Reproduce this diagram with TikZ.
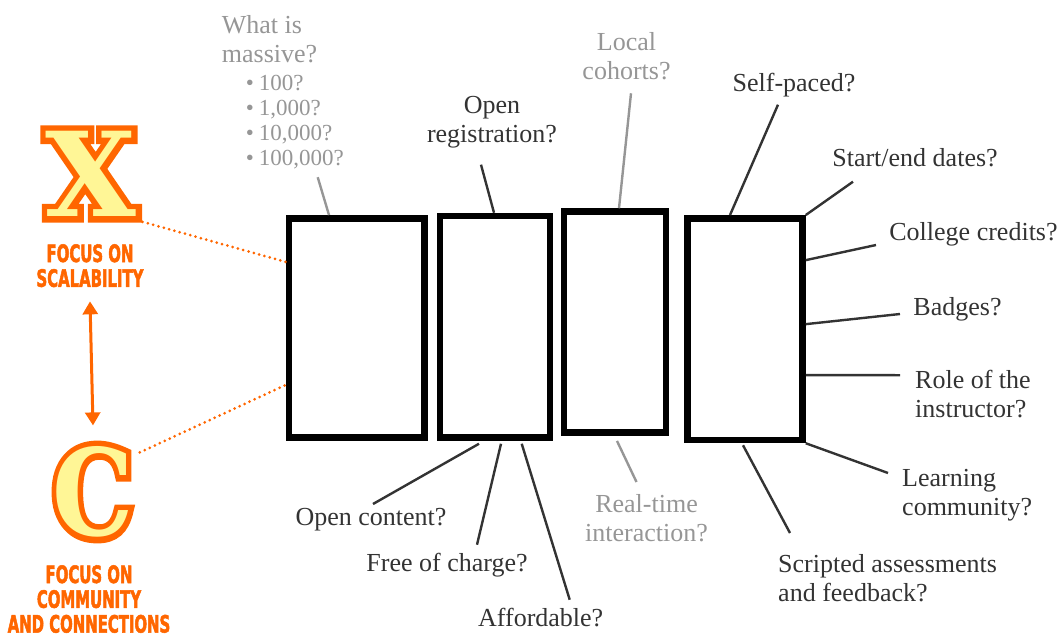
\documentclass[tikz,border=0pt]{standalone}
\usepackage{fontspec}
\setmainfont{Liberation Serif}
\newfontfamily\headfont[FakeStretch=0.62, FakeBold=2]{DejaVu Sans Bold}
\newfontfamily\letterfont{DejaVu Serif Bold}
\newfontfamily\letteredge[FakeBold=10]{DejaVu Serif Bold}
\usetikzlibrary{positioning, arrows.meta, calc}

\definecolor{focusorange}{RGB}{255,102,0}
\definecolor{letteryellow}{RGB}{255,246,150}
\definecolor{darktext}{RGB}{51,51,51}
\definecolor{greytext}{RGB}{150,150,150}

% a big letter: orange outline under a yellow face
\newcommand{\outlined}[1]{\rlap{\color{focusorange}\letteredge #1}{\color{letteryellow}\letterfont #1}}

\tikzset{
  modelbox/.style={draw=black, line width=6.5pt, fill=white, inner sep=0pt},
  question/.style={text=darktext, font=\fontsize{26}{29}\selectfont, inner sep=0pt},
  softquestion/.style={question, text=greytext},
  link/.style={draw=darktext, line width=2.4pt},
  softlink/.style={link, draw=greytext},
  focus/.style={text=focusorange, font=\headfont\fontsize{24}{24.8}\selectfont, align=center, inner sep=0pt},
  bigletter/.style={inner sep=0pt},
  dotlink/.style={draw=focusorange, line width=3pt, dash pattern=on 0pt off 5.5pt, line cap=round}
}

\begin{document}
\begin{tikzpicture}[x=1pt, y=-1pt]
\useasboundingbox (0,0) rectangle (1062,639);

% the four boxes
\node[modelbox, minimum width=135.5pt, minimum height=219.2pt] (box1) at (356.75,327.9) {};
\node[modelbox, minimum width=110pt, minimum height=221.5pt] (box2) at (495,326.75) {};
\node[modelbox, minimum width=102pt, minimum height=221.2pt] (box3) at (615,322.1) {};
\node[modelbox, minimum width=115pt, minimum height=221.7pt] (box4) at (745,329.15) {};

% scalability and community
\node[bigletter, font=\fontsize{117}{117}\selectfont] (xletter) at (91,174) {\outlined{X}};
\node[focus, anchor=north] (xfocus) at (90,244) {FOCUS ON\\SCALABILITY};

\node[bigletter, font=\fontsize{120}{120}\selectfont] (cletter) at (93,492) {\scalebox{0.85}[1]{\outlined{C}}};
\node[focus, anchor=north] (cfocus) at (89,565) {FOCUS ON\\COMMUNITY\\AND CONNECTIONS};

\draw[draw=focusorange, line width=3pt, {Triangle[length=13pt, width=15pt]}-{Triangle[length=13pt, width=15pt]}]
  ([yshift=-14pt]xfocus.south) -- ([yshift=21pt]cletter.north);

\draw[dotlink] ([shift={(6,5)}]xletter.south east) -- ([shift={(0,-66)}]box1.west);
\draw[dotlink] ([shift={(6,6)}]cletter.north east) -- ([shift={(0,57)}]box1.west);

% questions above
\node[softquestion, anchor=north west, align=left] (massive) at (221.7,15.2)
  {What is\\massive?\\[-1pt]
   {\fontsize{23}{26}\selectfont\hspace*{24pt}\textbullet\hspace{5pt}100?}\\[-4pt]
   {\fontsize{23}{26}\selectfont\hspace*{24pt}\textbullet\hspace{5pt}1,000?}\\[-4pt]
   {\fontsize{23}{26}\selectfont\hspace*{24pt}\textbullet\hspace{5pt}10,000?}\\[-4pt]
   {\fontsize{23}{26}\selectfont\hspace*{24pt}\textbullet\hspace{5pt}100,000?}};
\node[question, anchor=south, align=center] (openreg) at (492,148.7) {Open\\registration?};
\node[softquestion, anchor=south, align=center] (cohorts) at (626.5,80.3) {Local\\cohorts?};
\node[question, anchor=base] (selfpaced) at (794,91.7) {Self-paced?};

% questions on the right
\node[question, anchor=base] (dates) at (915,166.7) {Start/end dates?};
\node[question, anchor=base] (credits) at (973.5,240) {College credits?};
\node[question, anchor=base] (badges) at (957.5,315) {Badges?};
\node[question, anchor=north west, align=left] (instructor) at (915,370.2) {Role of the\\instructor?};
\node[question, anchor=north west, align=left] (community) at (902,469) {Learning\\community?};

% questions below
\node[question, anchor=north west, align=left] (scripted) at (778,554) {Scripted assessments\\and feedback?};
\node[softquestion, anchor=north, align=center] (realtime) at (646.5,494) {Real-time\\interaction?};
\node[question, anchor=base] (content) at (371,525) {Open content?};
\node[question, anchor=base] (free) at (447,571.7) {Free of charge?};
\node[question, anchor=base] (affordable) at (540.7,626.7) {Affordable?};

% links
\draw[softlink] ([shift={(96,162)}]massive.north west) -- ([xshift=-27.75pt]box1.north);
\draw[link] ([shift={(-11,16)}]openreg.south) -- ([xshift=-1pt]box2.north);
\draw[softlink] ([shift={(4.5,13)}]cohorts.south) -- ([xshift=4pt]box3.north);
\draw[link] ([shift={(-16,13)}]selfpaced.base) -- ([xshift=-15pt]box4.north);
\draw[link] ([shift={(-62,15)}]dates.base) -- (box4.north east);
\draw[link] ([shift={(-97.5,5)}]credits.base) -- ([yshift=69pt]box4.east);
\draw[link] ([shift={(-57.5,-1)}]badges.base) -- ([yshift=5pt]box4.east);
\draw[link] ([shift={(-15,5)}]instructor.north west) -- ([yshift=-46pt]box4.east);
\draw[link] ([shift={(-14,4)}]community.north west) -- (box4.south east);
\draw[link] ([shift={(12,-21)}]scripted.north west) -- ([xshift=-2pt, yshift=-2pt]box4.south);
\draw[softlink] ([shift={(-10,-12)}]realtime.north) -- ([xshift=2pt, yshift=-5pt]box3.south);
\draw[link] ([shift={(2,-21)}]content.base) -- ([xshift=-16pt, yshift=-3pt]box2.south);
\draw[link] ([shift={(30,-27)}]free.base) -- ([xshift=6pt, yshift=-3pt]box2.south);
\draw[link] ([shift={(29,-27)}]affordable.base) -- ([xshift=26.7pt, yshift=-3pt]box2.south);

\end{tikzpicture}
\end{document}
